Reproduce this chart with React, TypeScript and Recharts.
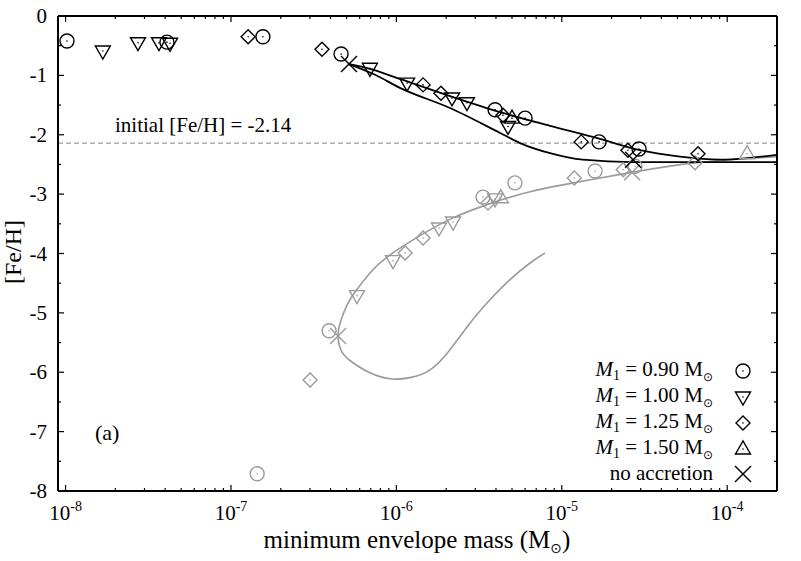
import React from 'react';
import { ComposedChart, XAxis, YAxis, Line, Scatter, ReferenceLine, Customized } from 'recharts';

type P = { x: number; y: number };
const toPts = (a: number[][]): P[] => a.map(([x, y]) => ({ x, y }));

// ---- data: [minimum envelope mass (Msun), [Fe/H]] ----
const blackCircle = [[1.02e-8, -0.42], [4.1e-8, -0.44], [1.56e-7, -0.35], [4.63e-7, -0.64], [3.95e-6, -1.58], [6.0e-6, -1.72], [1.68e-5, -2.12], [2.93e-5, -2.24]];
const blackTriDown = [[1.68e-8, -0.59], [2.74e-8, -0.45], [3.67e-8, -0.45], [4.28e-8, -0.46], [6.92e-7, -0.88], [1.16e-6, -1.13], [2.17e-6, -1.38], [2.67e-6, -1.46], [4.73e-6, -1.86]];
const blackDiamond = [[1.27e-7, -0.35], [3.55e-7, -0.56], [1.45e-6, -1.16], [1.86e-6, -1.3], [4.41e-6, -1.67], [1.31e-5, -2.12], [2.51e-5, -2.26], [6.66e-5, -2.32]];
const blackTriUp = [[5.0e-6, -1.72]];
const blackCross = [[5.17e-7, -0.81], [2.7e-5, -2.42]];

const grayCircle = [[1.44e-7, -7.71], [3.92e-7, -5.3], [3.34e-6, -3.05], [5.21e-6, -2.81], [1.59e-5, -2.61], [2.77e-5, -2.53]];
const grayTriDown = [[5.78e-7, -4.71], [9.54e-7, -4.12], [1.81e-6, -3.57], [2.2e-6, -3.47], [3.95e-6, -3.08]];
const grayDiamond = [[3.01e-7, -6.13], [1.13e-6, -3.99], [1.45e-6, -3.74], [3.58e-6, -3.15], [1.19e-5, -2.73], [2.35e-5, -2.59], [6.39e-5, -2.47]];
const grayTriUp = [[4.28e-6, -3.06], [1.32e-4, -2.32]];
const grayCross = [[4.44e-7, -5.39], [2.66e-5, -2.63]];

const blackUpperCurve = [[5.17e-7, -0.81], [6.92e-7, -0.89], [1.05e-6, -1.06], [2.11e-6, -1.35], [4.24e-6, -1.62], [8.49e-6, -1.85], [1.7e-5, -2.07], [2.97e-5, -2.26], [5.19e-5, -2.37], [9.05e-5, -2.42], [1.37e-4, -2.39], [2e-4, -2.34]];
const blackLowerCurve = [[5.17e-7, -0.81], [7.43e-7, -0.99], [1.05e-6, -1.21], [2.11e-6, -1.55], [4.24e-6, -1.97], [5.59e-6, -2.14], [8.49e-6, -2.31], [1.34e-5, -2.42], [2.7e-5, -2.46], [6.85e-5, -2.46], [2e-4, -2.46]];
const grayCurve = [[7.92e-6, -3.99], [6.43e-6, -4.16], [4.86e-6, -4.44], [3.68e-6, -4.78], [2.79e-6, -5.17], [2.11e-6, -5.62], [1.6e-6, -5.96], [1.21e-6, -6.09], [9.15e-7, -6.11], [6.92e-7, -6.01], [5.47e-7, -5.84], [4.69e-7, -5.66], [4.44e-7, -5.39], [4.63e-7, -5.12], [5.03e-7, -4.87], [5.62e-7, -4.65], [6.92e-7, -4.33], [8.78e-7, -4.06], [1.39e-6, -3.7], [2.2e-6, -3.4], [3.68e-6, -3.16], [6.43e-6, -2.96], [1.29e-5, -2.79], [2.7e-5, -2.63], [6.57e-5, -2.47], [2e-4, -2.37]];

const INITIAL_FEH = -2.14;
const X_DOMAIN = [9e-9, 2e-4];
const Y_DOMAIN = [-8, 0];
const X_DECADE_EXPONENTS = [-8, -7, -6, -5, -4];
const X_MINOR_MULTIPLIERS = [2, 3, 4, 5, 6, 7, 8, 9];
const Y_MAJOR = [0, -1, -2, -3, -4, -5, -6, -7, -8];
const Y_MINOR = [-0.5, -1.5, -2.5, -3.5, -4.5, -5.5, -6.5, -7.5];
const LEGEND_MASSES = ['0.90', '1.00', '1.25', '1.50'];
const LEGEND_SHAPES = ['circle', 'triDown', 'diamond', 'triUp'];

const X_TICKS: number[] = [];
X_DECADE_EXPONENTS.forEach((e) => {
  const base = Math.pow(10, e);
  X_TICKS.push(base);
  X_MINOR_MULTIPLIERS.forEach((m) => {
    const v = m * base;
    if (v < X_DOMAIN[1] * 0.999) X_TICKS.push(v);
  });
});
const Y_TICKS = [...Y_MAJOR, ...Y_MINOR].sort((a, b) => a - b);

const BLACK = '#000';
const GRAY = '#9b9b9b';
const FONT = '"Liberation Serif", "Times New Roman", serif';

function Marker({ kind, cx, cy, color }: { kind: string; cx: number; cy: number; color: string }) {
  const sw = 1.4;
  const dot = <circle cx={cx} cy={cy} r={0.8} fill={color} />;
  if (kind === 'circle')
    return (<g><circle cx={cx} cy={cy} r={7} fill="none" stroke={color} strokeWidth={sw} />{dot}</g>);
  if (kind === 'triDown')
    return (<g><polygon points={`${cx - 7.5},${cy - 5} ${cx + 7.5},${cy - 5} ${cx},${cy + 8}`} fill="none" stroke={color} strokeWidth={sw} />{dot}</g>);
  if (kind === 'triUp')
    return (<g><polygon points={`${cx - 7.5},${cy + 5} ${cx + 7.5},${cy + 5} ${cx},${cy - 8}`} fill="none" stroke={color} strokeWidth={sw} />{dot}</g>);
  if (kind === 'diamond')
    return (<g><polygon points={`${cx},${cy - 7} ${cx + 7},${cy} ${cx},${cy + 7} ${cx - 7},${cy}`} fill="none" stroke={color} strokeWidth={sw} />{dot}</g>);
  return (
    <g stroke={color} strokeWidth={sw}>
      <line x1={cx - 8} y1={cy - 8} x2={cx + 8} y2={cy + 8} />
      <line x1={cx - 8} y1={cy + 8} x2={cx + 8} y2={cy - 8} />
    </g>
  );
}

const shape = (kind: string, color: string) => (props: any) => {
  if (props.cx == null || props.cy == null) return <g />;
  return <Marker kind={kind} cx={props.cx} cy={props.cy} color={color} />;
};

const isMajorX = (v: number) => {
  const e = Math.log10(v);
  return Math.abs(e - Math.round(e)) < 1e-6;
};

const XTickBottom = (props: any) => {
  const { x, y, payload } = props;
  const major = isMajorX(payload.value);
  const e = Math.round(Math.log10(payload.value));
  return (
    <g>
      <line x1={x} x2={x} y1={y} y2={y - (major ? 6 : 3)} stroke={BLACK} strokeWidth={1.2} />
      {major && (
        <text x={x} y={y + 29} textAnchor="middle" fontSize={21} fill={BLACK} fontFamily={FONT}>
          10<tspan dy={-9} fontSize={14}>{`${e}`}</tspan>
        </text>
      )}
    </g>
  );
};

const XTickTop = (props: any) => {
  const { x, y, payload } = props;
  const major = isMajorX(payload.value);
  return <line x1={x} x2={x} y1={y} y2={y + (major ? 6 : 3)} stroke={BLACK} strokeWidth={1.2} />;
};

const YTickLeft = (props: any) => {
  const { x, y, payload } = props;
  const major = Number.isInteger(payload.value);
  return (
    <g>
      <line x1={x} x2={x + (major ? 6 : 3)} y1={y} y2={y} stroke={BLACK} strokeWidth={1.2} />
      {major && (
        <text x={x - 11} y={y + 7} textAnchor="end" fontSize={21} fill={BLACK} fontFamily={FONT}>
          {`${payload.value}`}
        </text>
      )}
    </g>
  );
};

const YTickRight = (props: any) => {
  const { x, y, payload } = props;
  const major = Number.isInteger(payload.value);
  return <line x1={x} x2={x - (major ? 6 : 3)} y1={y} y2={y} stroke={BLACK} strokeWidth={1.2} />;
};

const Overlay = () => (
  <g fontFamily={FONT} fill={BLACK}>
    <text x={95} y={440} fontSize={22}>(a)</text>
    {LEGEND_MASSES.map((m, i) => {
      const by = 376 + i * 26;
      return (
        <g key={m}>
          <text x={713} y={by} textAnchor="end" fontSize={21}>
            <tspan fontStyle="italic">M</tspan>
            <tspan fontSize={14} dy={4}>1</tspan>
            <tspan dy={-4}>{` = ${m} M`}</tspan>
            <tspan fontSize={12} dy={5} fontFamily='"DejaVu Sans", sans-serif'>⊙</tspan>
          </text>
          <Marker kind={LEGEND_SHAPES[i]} cx={743} cy={by - 5} color={BLACK} />
        </g>
      );
    })}
    <text x={713} y={480} textAnchor="end" fontSize={21}>no accretion</text>
    <Marker kind="cross" cx={743} cy={474} color={BLACK} />
  </g>
);

const RefLabel = (p: any) => {
  const vb = p.viewBox || {};
  return (
    <text x={(vb.x ?? 58) + 57} y={(vb.y ?? 143) - 11} fontSize={21} fill={BLACK} fontFamily={FONT}>
      initial [Fe/H] = {`${INITIAL_FEH}`}
    </text>
  );
};

const XLabel = () => (
  <text x={417} y={548} textAnchor="middle" fontSize={25} fill={BLACK} fontFamily={FONT}>
    minimum envelope mass (M<tspan fontSize={14} dy={5} fontFamily='"DejaVu Sans", sans-serif'>⊙</tspan><tspan dy={-5}>)</tspan>
  </text>
);

const YLabel = () => (
  <text x={21} y={252} transform="rotate(-90 21 252)" textAnchor="middle" fontSize={24} fill={BLACK} fontFamily={FONT}>
    [Fe/H]
  </text>
);

export default function App() {
  return (
    <div style={{ position: 'absolute', left: 0, top: 0, width: 801, height: 561, background: '#fff', fontFamily: FONT }}>
      <ComposedChart width={801} height={561} margin={{ top: 15, right: 23, bottom: 69, left: 57 }}>
        <XAxis
          xAxisId={0}
          dataKey="x"
          type="number"
          scale="log"
          domain={X_DOMAIN}
          allowDataOverflow
          ticks={X_TICKS}
          interval={0}
          height={1}
          tickSize={0}
          tickMargin={0}
          tickLine={false}
          axisLine={{ stroke: BLACK, strokeWidth: 2 }}
          tick={<XTickBottom />}
        />
        <XAxis
          xAxisId="top"
          orientation="top"
          dataKey="x"
          type="number"
          scale="log"
          domain={X_DOMAIN}
          allowDataOverflow
          ticks={X_TICKS}
          interval={0}
          height={1}
          tickSize={0}
          tickMargin={0}
          tickLine={false}
          axisLine={{ stroke: BLACK, strokeWidth: 2 }}
          tick={<XTickTop />}
        />
        <YAxis
          yAxisId={0}
          dataKey="y"
          type="number"
          domain={Y_DOMAIN}
          allowDataOverflow
          ticks={Y_TICKS}
          interval={0}
          width={1}
          tickSize={0}
          tickMargin={0}
          tickLine={false}
          axisLine={{ stroke: BLACK, strokeWidth: 2 }}
          tick={<YTickLeft />}
        />
        <YAxis
          yAxisId="right"
          orientation="right"
          type="number"
          domain={Y_DOMAIN}
          allowDataOverflow
          ticks={Y_TICKS}
          interval={0}
          width={1}
          tickSize={0}
          tickMargin={0}
          tickLine={false}
          axisLine={{ stroke: BLACK, strokeWidth: 2 }}
          tick={<YTickRight />}
        />
        <ReferenceLine y={INITIAL_FEH} stroke={GRAY} strokeWidth={1.2} strokeDasharray="5 3" label={<RefLabel />} />

        <Line data={toPts(grayCurve)} dataKey="y" type="natural" stroke={GRAY} strokeWidth={1.6} dot={false} isAnimationActive={false} />
        <Scatter data={toPts(grayCircle)} dataKey="y" shape={shape('circle', GRAY)} isAnimationActive={false} />
        <Scatter data={toPts(grayTriDown)} dataKey="y" shape={shape('triDown', GRAY)} isAnimationActive={false} />
        <Scatter data={toPts(grayDiamond)} dataKey="y" shape={shape('diamond', GRAY)} isAnimationActive={false} />
        <Scatter data={toPts(grayTriUp)} dataKey="y" shape={shape('triUp', GRAY)} isAnimationActive={false} />
        <Scatter data={toPts(grayCross)} dataKey="y" shape={shape('cross', GRAY)} isAnimationActive={false} />

        <Line data={toPts(blackUpperCurve)} dataKey="y" type="monotone" stroke={BLACK} strokeWidth={1.8} dot={false} isAnimationActive={false} />
        <Line data={toPts(blackLowerCurve)} dataKey="y" type="monotone" stroke={BLACK} strokeWidth={1.8} dot={false} isAnimationActive={false} />
        <Scatter data={toPts(blackCircle)} dataKey="y" shape={shape('circle', BLACK)} isAnimationActive={false} />
        <Scatter data={toPts(blackTriDown)} dataKey="y" shape={shape('triDown', BLACK)} isAnimationActive={false} />
        <Scatter data={toPts(blackDiamond)} dataKey="y" shape={shape('diamond', BLACK)} isAnimationActive={false} />
        <Scatter data={toPts(blackTriUp)} dataKey="y" shape={shape('triUp', BLACK)} isAnimationActive={false} />
        <Scatter data={toPts(blackCross)} dataKey="y" shape={shape('cross', BLACK)} isAnimationActive={false} />

        <Customized component={Overlay} />
        <Customized component={XLabel} />
        <Customized component={YLabel} />
      </ComposedChart>
    </div>
  );
}
